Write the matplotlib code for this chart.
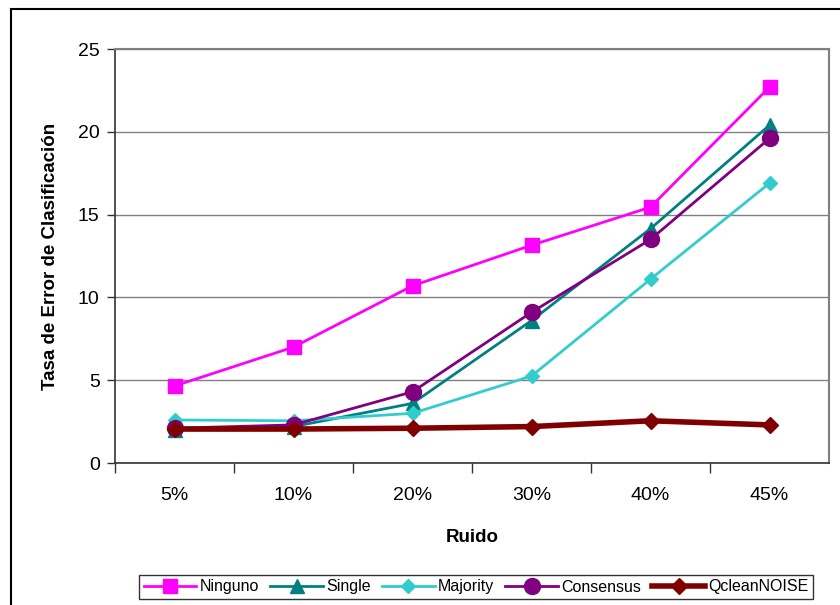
import matplotlib.pyplot as plt
from matplotlib.patches import Rectangle

plt.rcParams["font.family"] = ["Liberation Sans", "DejaVu Sans"]

ruido = ["5%", "10%", "20%", "30%", "40%", "45%"]

ninguno = [4.65, 7.0, 10.7, 13.15, 15.45, 22.7]
single = [2.0, 2.2, 3.6, 8.6, 14.15, 20.4]
majority = [2.6, 2.55, 3.0, 5.25, 11.1, 16.9]
consensus = [2.1, 2.3, 4.3, 9.1, 13.5, 19.6]
qclean = [2.05, 2.05, 2.1, 2.2, 2.55, 2.3]

fig = plt.figure(figsize=(8.4, 6.05), dpi=100)
ax = fig.add_axes([115 / 840, 1 - 463 / 605, 714 / 840, 414 / 605])

x = range(len(ruido))
ax.plot(x, ninguno, color="#FF00FF", lw=2, marker="s", ms=10, label="Ninguno")
ax.plot(x, single, color="#008080", lw=2, marker="^", ms=10, label="Single")
ax.plot(x, majority, color="#33CCCC", lw=2, marker="D", ms=7, label="Majority")
ax.plot(x, consensus, color="#800080", lw=2, marker="o", ms=11.5, label="Consensus")
ax.plot(x, qclean, color="#800000", lw=4, marker="D", ms=8, label="QcleanNOISE")

ax.set_xlim(-0.5, len(ruido) - 0.5)
ax.set_ylim(0, 25)
ax.set_yticks(range(0, 26, 5))
ax.set_xticks(list(x))
ax.set_xticklabels(ruido, fontsize=14)
ax.tick_params(axis="x", length=0, pad=17)
ax.set_xticks([i - 0.5 for i in range(len(ruido))], minor=True)
ax.tick_params(axis="x", which="minor", length=7, width=1, color="#333333")
ax.tick_params(axis="y", labelsize=14, length=6, width=1, color="#333333", pad=5)

ax.yaxis.grid(True, color="#808080", lw=1)
ax.set_axisbelow(True)
for side in ("top", "right"):
    ax.spines[side].set_color("#808080")
    ax.spines[side].set_linewidth(1.5)
for side in ("left", "bottom"):
    ax.spines[side].set_color("#333333")
    ax.spines[side].set_linewidth(1.2)

ax.set_xlabel("Ruido", fontsize=13.5, fontweight="bold", labelpad=18)
ax.set_ylabel("Tasa de Error de Clasificación", fontsize=13.5, fontweight="bold", labelpad=14)

leg = fig.legend(
    loc="center",
    bbox_to_anchor=(476 / 840, 1 - 587 / 605),
    ncol=5,
    fontsize=11.5,
    frameon=True,
    fancybox=False,
    edgecolor="black",
    handlelength=3.3,
    handletextpad=0.2,
    columnspacing=0.7,
    borderpad=0.3,
)
leg.get_frame().set_linewidth(1)

# outer chart frame
fig.patches.append(
    Rectangle((11 / 840, -0.1), 1.2, 1.1 - 9 / 605, transform=fig.transFigure,
              fill=False, edgecolor="black", lw=1.5)
)

fig.savefig("out.png", dpi=100)
